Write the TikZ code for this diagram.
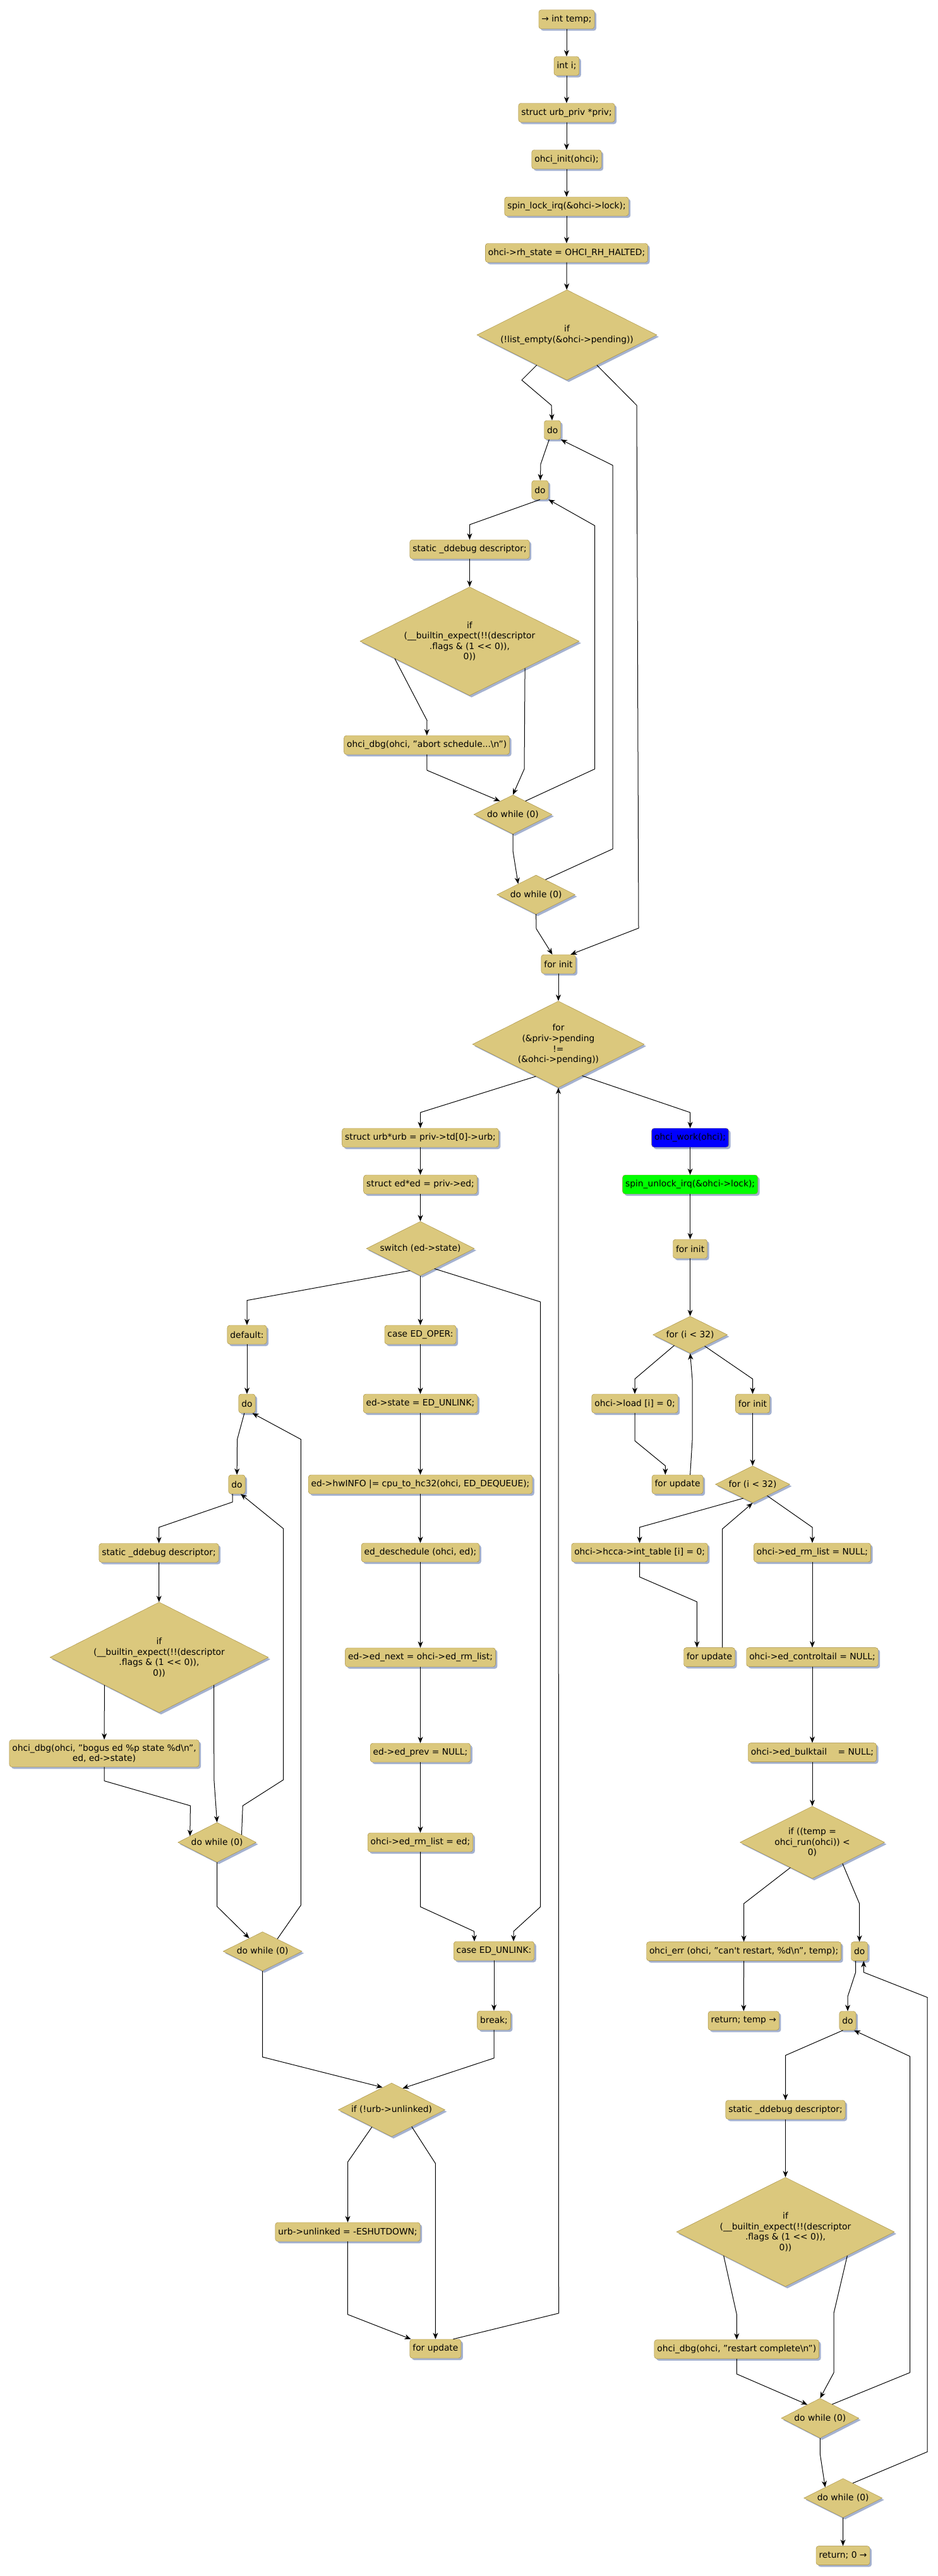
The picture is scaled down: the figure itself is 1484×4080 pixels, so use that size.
\documentclass[tikz,border=0pt]{standalone}
\usepackage{fontspec}
\setmainfont{DejaVu Sans}
\usetikzlibrary{shapes.geometric,arrows.meta,shadows}
\definecolor{sand}{RGB}{219,200,125}
\definecolor{olivec}{RGB}{160,135,55}
\definecolor{shadowc}{RGB}{165,178,208}
\newcommand{\codefnt}{\fontsize{13.8}{16.6}\selectfont}
\begin{document}
\begin{tikzpicture}[x=1pt,y=-1pt,
    box/.style={draw=olivec,fill=sand,rounded corners=4pt,inner xsep=4.5pt,inner ysep=0pt,minimum height=30pt,font=\codefnt,align=center,
      drop shadow={shadow xshift=3pt,shadow yshift=-3pt,fill=shadowc,opacity=1}},
    cond/.style={diamond,draw=olivec,fill=sand,inner sep=0pt,shape aspect=2,font=\codefnt,align=center,
      drop shadow={shadow xshift=3pt,shadow yshift=-3pt,fill=shadowc,opacity=1}},
    flow/.style={-{Stealth[length=10pt,width=8pt,inset=3pt]},black,line width=1pt}]
  \path[use as bounding box,fill=white] (0,0) rectangle (1484,4080);
  \node[box] (n1) at (897,30.7) {→ int temp;};
  \node[box] (n2) at (897,104.5) {int i;};
  \node[box] (n3) at (897,178.5) {struct urb\_priv *priv;};
  \node[box] (n4) at (897,252.5) {ohci\_init(ohci);};
  \node[box] (n5) at (897,327) {spin\_lock\_irq(\&ohci->lock);};
  \node[box] (n6) at (897,400.5) {ohci->rh\_state = OHCI\_RH\_HALTED;};
  \node[cond,minimum width=285pt,minimum height=143pt] (if1) at (897.5,530.5) {if\\(!list\_empty(\&ohci->pending))};
  \node[box] (do1) at (874.6,681) {do};
  \node[box] (do2) at (855,776) {do};
  \node[box] (dd1) at (743.5,870) {static \_ddebug descriptor;};
  \node[cond,minimum width=347pt,minimum height=172pt] (if2) at (743.5,1015.6) {if\\(\_\_builtin\_expect(!!(descriptor\\.flags \& (1 <{}< 0)),\\0))};
  \node[box] (dbg1) at (675.6,1180) {ohci\_dbg(ohci, "abort schedule...\textbackslash n")};
  \node[cond,minimum width=124pt,minimum height=62pt] (dw1) at (812,1290) {do while (0)};
  \node[cond,minimum width=124pt,minimum height=62pt] (dw2) at (848.6,1417) {do while (0)};
  \node[box] (forinit1) at (884,1527) {for init};
  \node[cond,minimum width=272pt,minimum height=137pt] (for1) at (884,1654) {for\\(\&priv->pending\\!=\\(\&ohci->pending))};
  \node[box] (urb) at (665.5,1802) {struct urb*urb = priv->td[0]->urb;};
  \node[box,fill=blue] (work) at (1092.6,1802) {ohci\_work(ohci);};
  \node[box] (ed) at (665.5,1876) {struct ed*ed = priv->ed;};
  \node[box,fill=green] (unlock) at (1092.6,1876) {spin\_unlock\_irq(\&ohci->lock);};
  \node[cond,minimum width=171pt,minimum height=86pt] (sw) at (665.5,1977.5) {switch (ed->state)};
  \node[box] (forinit2) at (1092.6,1978) {for init};
  \node[box] (default) at (391,2114) {default:};
  \node[box] (caseoper) at (665.5,2114) {case ED\_OPER:};
  \node[cond,minimum width=118pt,minimum height=58.5pt] (for2) at (1092.6,2114) {for (i < 32)};
  \node[box] (doa) at (391,2223) {do};
  \node[box] (state) at (665.5,2223) {ed->state = ED\_UNLINK;};
  \node[box] (load) at (1005,2223) {ohci->load [i] = 0;};
  \node[box] (forinit3) at (1191.5,2223) {for init};
  \node[box] (dob) at (375,2351) {do};
  \node[box] (hw) at (665.5,2351) {ed->hwINFO |= cpu\_to\_hc32(ohci, ED\_DEQUEUE);};
  \node[box] (forupd1) at (1072.6,2351) {for update};
  \node[cond,minimum width=118pt,minimum height=58.5pt] (for3) at (1191.5,2351) {for (i < 32)};
  \node[box] (dd2) at (251.5,2459.5) {static \_ddebug descriptor;};
  \node[box] (desched) at (665.5,2459) {ed\_deschedule (ohci, ed);};
  \node[box] (hcca) at (1012.6,2459) {ohci->hcca->int\_table [i] = 0;};
  \node[box] (rmnull) at (1286,2459) {ohci->ed\_rm\_list = NULL;};
  \node[cond,minimum width=346pt,minimum height=175pt] (if3) at (252,2625) {if\\(\_\_builtin\_expect(!!(descriptor\\.flags \& (1 <{}< 0)),\\0))};
  \node[box] (next) at (665.5,2625) {ed->ed\_next = ohci->ed\_rm\_list;};
  \node[box] (forupd2) at (1123,2624.6) {for update};
  \node[box] (ctrl) at (1286,2624.6) {ohci->ed\_controltail = NULL;};
  \node[box,minimum height=43pt] (dbg2) at (165,2777) {ohci\_dbg(ohci, "bogus ed \%p state \%d\textbackslash n",\\ed, ed->state)};
  \node[box] (prev) at (665.5,2776) {ed->ed\_prev = NULL;};
  \node[box] (bulk) at (1286,2775.6) {ohci->ed\_bulktail\ \ \ \ = NULL;};
  \node[cond,minimum width=124pt,minimum height=63pt] (dw3) at (343.6,2918) {do while (0)};
  \node[box] (rmlist) at (665.5,2918) {ohci->ed\_rm\_list = ed;};
  \node[cond,minimum width=229pt,minimum height=114.5pt] (if4) at (1286,2918) {if ((temp =\\ohci\_run(ohci)) <\\0)};
  \node[cond,minimum width=125pt,minimum height=62pt] (dw4) at (415.7,3090.6) {do while (0)};
  \node[box] (caseunl) at (782,3090) {case ED\_UNLINK:};
  \node[box] (err) at (1177.6,3090.6) {ohci\_err (ohci, "can\textquotesingle t restart, \%d\textbackslash n", temp);};
  \node[box] (doc) at (1360.6,3090.6) {do};
  \node[box] (brk) at (782,3200) {break;};
  \node[box] (ret1) at (1177.3,3200.5) {return; temp →};
  \node[box] (dod) at (1342,3200.5) {do};
  \node[cond,minimum width=169pt,minimum height=85pt] (ifurb) at (620,3341.6) {if (!urb->unlinked)};
  \node[box] (dd3) at (1243.5,3341.5) {static \_ddebug descriptor;};
  \node[box] (unl) at (550.5,3535) {urb->unlinked = -ESHUTDOWN;};
  \node[cond,minimum width=345pt,minimum height=173pt] (if5) at (1243.5,3535) {if\\(\_\_builtin\_expect(!!(descriptor\\.flags \& (1 <{}< 0)),\\0))};
  \node[box] (forupd3) at (689.4,3720) {for update};
  \node[box] (dbg3) at (1166.3,3720.8) {ohci\_dbg(ohci, "restart complete\textbackslash n")};
  \node[cond,minimum width=123pt,minimum height=63pt] (dw5) at (1298.3,3830) {do while (0)};
  \node[cond,minimum width=124pt,minimum height=62pt] (dw6) at (1334.7,3956.5) {do while (0)};
  \node[box] (ret0) at (1334.5,4047.5) {return; 0 →};
  \draw[flow] (n1) -- (n2);
  \draw[flow] (n2) -- (n3);
  \draw[flow] (n3) -- (n4);
  \draw[flow] (n4) -- (n5);
  \draw[flow] (n5) -- (n6);
  \draw[flow] (n6) -- (if1);
  \draw[flow] (if1) -- (826,602) -- (873,642) -- (do1);
  \draw[flow] (if1) -- (1008,642) -- (1011,1470) -- ([xshift=-8pt]forinit1.north east);
  \draw[flow] (do1) -- (856,735) -- (do2);
  \draw[flow] (do2.south) -- (743.5,831) -- (dd1);
  \draw[flow] (dd1) -- (if2);
  \draw[flow] (if2.193) -- (676,1141) -- (dbg1);
  \draw[flow] (if2.334) -- (830,1218) -- (dw1.north);
  \draw[flow] (dbg1) -- (676,1220) -- (dw1.134);
  \draw[flow] (dw1.47) -- (941.5,1218) -- (941.5,832.5) -- (do2.south east);
  \draw[flow] (dw1.south) -- (812,1347.5) -- (dw2.149);
  \draw[flow] (dw2.58) -- (970,1344.6) -- (970,737) -- (do1.south east);
  \draw[flow] (dw2.south) -- (849,1471) -- (forinit1);
  \draw[flow] (forinit1) -- (for1);
  \draw[flow] (for1.235) -- (665.5,1762) -- (urb);
  \draw[flow] (for1.307) -- (1092.6,1762) -- (work);
  \draw[flow] (urb) -- (ed);
  \draw[flow] (ed) -- (sw);
  \draw[flow] (work) -- (unlock);
  \draw[flow] (unlock) -- (forinit2);
  \draw[flow] (forinit2) -- (for2);
  \draw[flow] (sw.245) -- (391,2059.6) -- (default);
  \draw[flow] (sw) -- (caseoper);
  \draw[flow] (sw.305) -- (855.7,2062) -- (855.7,3020) -- (813,3059) -- ([xshift=31pt]caseunl.north);
  \draw[flow] (default) -- (doa);
  \draw[flow] (doa) -- (375.6,2279.7) -- (dob);
  \draw[flow] ([xshift=-7pt]dob.south) -- (368,2379) -- (251.7,2419) -- (dd2);
  \draw[flow] (dd2) -- (if3);
  \draw[flow] (if3.south west) -- (dbg2);
  \draw[flow] (if3.south east) -- (338.8,2818) -- (dw3.north);
  \draw[flow] (dbg2) -- (165,2820.6) -- (301.4,2860) -- (dw3.167);
  \draw[flow] (dw3.17) -- (384.3,2860) -- (448.5,2819) -- (448.5,2421) -- ([xshift=6pt]dob.south);
  \draw[flow] (dw3.south) -- (343.6,3019.6) -- (dw4);
  \draw[flow] (dw4.40) -- (476.4,3017.4) -- (476.4,2279.7) -- ([xshift=8.5pt]doa.south);
  \draw[flow] (dw4.south) -- (415.7,3258) -- (ifurb.112);
  \draw[flow] (caseoper) -- (state);
  \draw[flow] (state) -- (hw);
  \draw[flow] (hw) -- (desched);
  \draw[flow] (desched) -- (next);
  \draw[flow] (next) -- (prev);
  \draw[flow] (prev) -- (rmlist);
  \draw[flow] (rmlist) -- (665.5,3020) -- (750.7,3059) -- ([xshift=-31pt]caseunl.north);
  \draw[flow] (caseunl) -- (brk);
  \draw[flow] (brk) -- (782,3259.7) -- (ifurb.63);
  \draw[flow] (ifurb.221) -- (550.7,3424) -- (unl);
  \draw[flow] (ifurb.320) -- (689.4,3426.6) -- (forupd3);
  \draw[flow] (unl) -- (550.4,3665.7) -- (forupd3);
  \draw[flow] ([xshift=28pt]forupd3.north) -- (884.5,3663.8) -- (for1.south);
  \draw[flow] (for2.214) -- (1005,2184) -- (load);
  \draw[flow] (for2.322) -- (1191.5,2184) -- (forinit3);
  \draw[flow] (load) -- (1005,2282) -- (1053.3,2321.6) -- ([xshift=-19.3pt]forupd1.north);
  \draw[flow] ([xshift=20pt]forupd1.north) -- (1096,2281) -- (1096,2184.8) -- (for2.south);
  \draw[flow] (forinit3) -- (for3);
  \draw[flow] (for3.236) -- (1012.5,2419) -- (hcca);
  \draw[flow] (for3.322) -- (1286,2419) -- (rmnull);
  \draw[flow] (hcca) -- (1012.5,2497.6) -- (1103.4,2537) -- ([xshift=-19.6pt]forupd2.north);
  \draw[flow] ([xshift=20.5pt]forupd2.north) -- (1143.5,2421.7) -- (for3.south);
  \draw[flow] (rmnull) -- (ctrl);
  \draw[flow] (ctrl) -- (bulk);
  \draw[flow] (bulk) -- (if4);
  \draw[flow] (if4.229) -- (1177.6,3015) -- (err);
  \draw[flow] (if4.325) -- (1360.6,3015) -- (doc);
  \draw[flow] (err) -- (ret1);
  \draw[flow] ([xshift=-6pt]doc.south) -- (1354.6,3123.8) -- (1342,3162.3) -- (dod.north);
  \draw[flow] (dw6.57) -- (1468,3883.3) -- (1468,3163.5) -- (1367.3,3123.8) -- ([xshift=6.7pt]doc.south);
  \draw[flow] ([xshift=-7.5pt]dod.south) -- (1243.5,3255.4) -- (dd3);
  \draw[flow] (dw5.49) -- (1440.7,3757.7) -- (1440.7,3257) -- ([xshift=10pt]dod.south);
  \draw[flow] (dd3) -- (if5);
  \draw[flow] (if5.201) -- (1166.3,3665.6) -- (dbg3);
  \draw[flow] (if5.339) -- (1320,3663.7) -- (1320,3758) -- (dw5.north);
  \draw[flow] (dbg3) -- (1166.3,3760) -- (dw5.133);
  \draw[flow] (dw5.south) -- (1298.3,3886.7) -- (dw6.149);
  \draw[flow] (dw6) -- (ret0);
\end{tikzpicture}
\end{document}
